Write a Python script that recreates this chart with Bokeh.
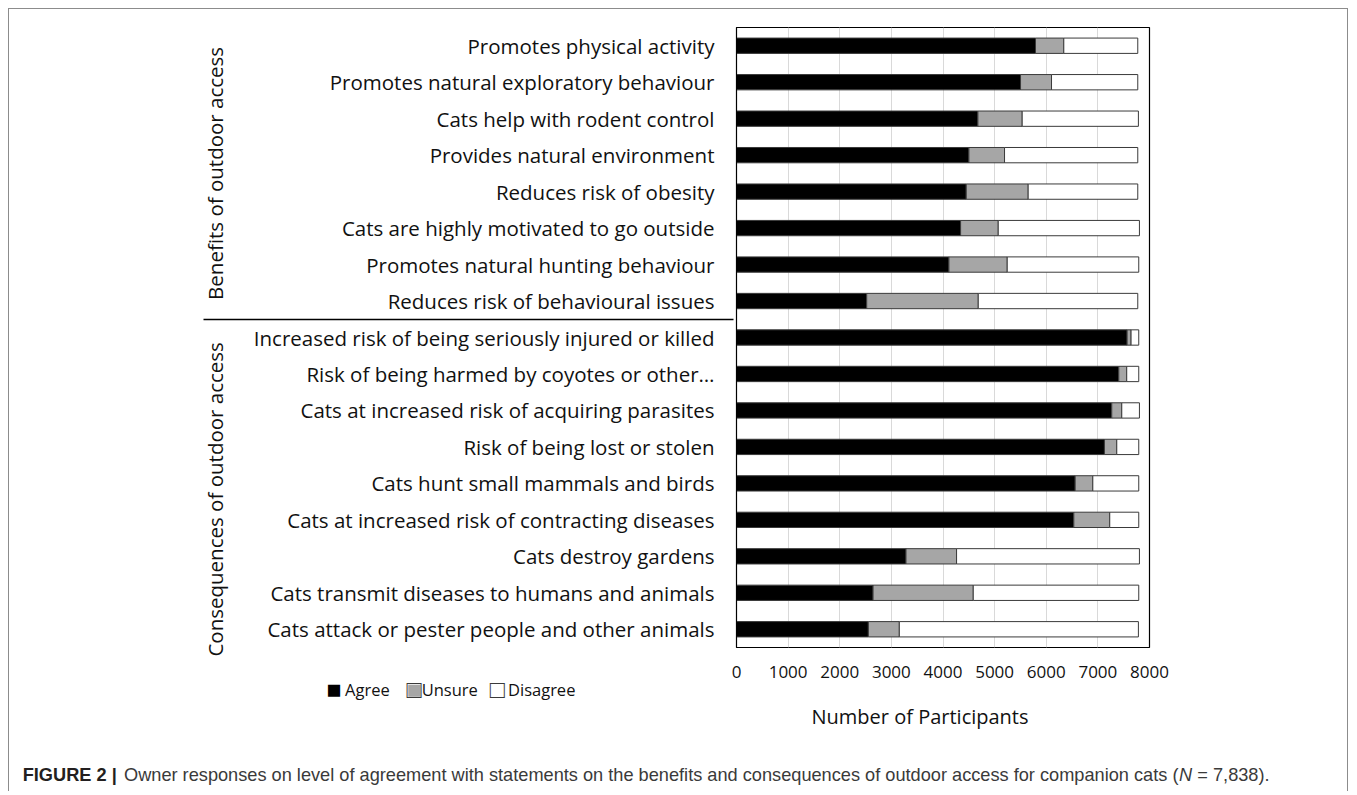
from bokeh.plotting import figure
from bokeh.models import ColumnDataSource, FixedTicker, Range1d, FactorRange, Title
from bokeh.embed import file_html
from bokeh.resources import INLINE

groups = ["Benefits of outdoor access", "Consequences of outdoor access"]
group_sizes = [8, 9]
statements = [
    "Promotes physical activity",
    "Promotes natural exploratory behaviour",
    "Cats help with rodent control",
    "Provides natural environment",
    "Reduces risk of obesity",
    "Cats are highly motivated to go outside",
    "Promotes natural hunting behaviour",
    "Reduces risk of behavioural issues",
    "Increased risk of being seriously injured or killed",
    "Risk of being harmed by coyotes or other\u2026",
    "Cats at increased risk of acquiring parasites",
    "Risk of being lost or stolen",
    "Cats hunt small mammals and birds",
    "Cats at increased risk of contracting diseases",
    "Cats destroy gardens",
    "Cats transmit diseases to humans and animals",
    "Cats attack or pester people and other animals",
]
agree = [5792, 5502, 4676, 4502, 4450, 4341, 4115, 2522,
         7566, 7405, 7269, 7127, 6560, 6534, 3283, 2645, 2554]
unsure = [548, 600, 858, 690, 1200, 729, 1129, 2161,
          77, 154, 194, 239, 342, 696, 980, 1941, 600]
disagree = [1433, 1671, 2251, 2581, 2123, 2735, 2548, 3090,
            149, 233, 342, 426, 890, 562, 3542, 3206, 4631]
x_ticks = [0, 1000, 2000, 3000, 4000, 5000, 6000, 7000, 8000]
x_label = "Number of Participants"
series_names = ["Agree", "Unsure", "Disagree"]
series_colors = ["black", "#a6a6a6", "white"]
caption_bold = "FIGURE 2 |"
caption_text = ("Owner responses on level of agreement with statements on the benefits "
                "and consequences of outdoor access for companion cats (")
caption_n = "N"
caption_end = "= 7,838)."

# ---- data wiring ----
# the second group label sits a little lower in the original; trailing no-break
# spaces shift its centred text downwards
group_shown = [groups[0], groups[1] + "\u00a0" * 6]
grp_of = []
for g, sz in zip(group_shown, group_sizes):
    grp_of += [g] * sz
factors = [(g, s) for g, s in zip(grp_of, statements)]
n = len(statements)
a_end = list(agree)
u_end = [a + u for a, u in zip(agree, unsure)]
d_end = [ue + d for ue, d in zip(u_end, disagree)]
src = ColumnDataSource(dict(y=factors, zero=[0] * n, a_end=a_end, u_end=u_end, d_end=d_end))

FONT = "Open Sans"
TXT = "#111111"
EDGE = "#3a3a3a"
border = "1.5px solid #8c8c8c"

W, H = 1340, 783
p = figure(width=W, height=H, output_backend="svg", toolbar_location=None,
           x_range=Range1d(0, 8000),
           y_range=FactorRange(factors=factors[::-1], group_padding=0,
                               factor_padding=0, range_padding=0),
           min_border_left=727, min_border_right=200,
           min_border_top=18, min_border_bottom=145,
           styles={"margin-left": "8px", "margin-top": "8px",
                   "border-left": border, "border-top": border, "border-right": border})
p.background_fill_color = "white"
p.border_fill_color = "white"
p.outline_line_color = "black"
p.outline_line_width = 1.2

bh = 0.42
for left, right, col, name in [("zero", "a_end", series_colors[0], series_names[0]),
                               ("a_end", "u_end", series_colors[1], series_names[1]),
                               ("u_end", "d_end", series_colors[2], series_names[2])]:
    p.hbar(y="y", left=left, right=right, height=bh, source=src, name=name,
           fill_color=col, line_color=EDGE, line_width=1)

p.xgrid.grid_line_color = "#d9d9d9"
p.xgrid.grid_line_width = 1
p.ygrid.grid_line_color = None

xa = p.xaxis[0]
xa.ticker = FixedTicker(ticks=x_ticks)
xa.axis_line_color = None
xa.major_tick_line_color = None
xa.minor_tick_line_color = None
xa.major_tick_out = 0
xa.major_label_standoff = 18
xa.major_label_text_font = FONT
xa.major_label_text_font_size = "17px"
xa.major_label_text_color = TXT

ya = p.yaxis[0]
ya.axis_line_color = "black"
ya.major_tick_line_color = None
ya.minor_tick_line_color = None
ya.major_tick_out = 0
ya.major_label_standoff = 22
ya.major_label_orientation = "horizontal"
ya.major_label_text_font = FONT
ya.major_label_text_font_size = "20.5px"
ya.major_label_text_color = TXT
ya.group_text_font = FONT
ya.group_text_font_size = "20.5px"
ya.group_text_font_style = "normal"
ya.group_text_color = TXT
ya.group_label_orientation = "parallel"
ya.separator_line_color = "black"
ya.separator_line_width = 1.5


def note(text, offset, standoff, font, size, style="normal", color=TXT):
    # zero-height title rows in the bottom panel; vertical place set by standoff
    p.add_layout(Title(text=text, align="left", offset=offset, standoff=standoff,
                       vertical_align="bottom", text_font=font, text_font_size=size,
                       text_font_style=style, text_color=color), "below")


# x axis title
note(x_label, 75, -98, FONT, "20px")

# legend (squares + labels)
SQ = "25px"
note("\u25A0", -410.2, -49, FONT, SQ, color=series_colors[0])
note(series_names[0], -391.5, -40, FONT, "16.5px")
note("\u25A0", -330.0, -49, FONT, SQ, color=series_colors[1])
note("\u25A1", -330.0, -49, FONT, SQ, color=EDGE)
note(series_names[1], -314.8, -40, FONT, "16.5px")
note("\u25A1", -246.8, -49, FONT, SQ, color=EDGE)
note(series_names[2], -228.5, -40, FONT, "16.5px")

# caption
CF, CS = "Liberation Sans", "18.2px"
note(caption_bold, -713.8, -209, CF, CS, "bold", "#231f20")
note(caption_text, -612.5, -209, CF, CS, "normal", "#3a3a3a")
note(caption_n, 442.6, -209, CF, CS, "italic", "#3a3a3a")
note(caption_end, 460.8, -209, CF, CS, "normal", "#3a3a3a")

open("out.html", "w").write(file_html(p, INLINE))
